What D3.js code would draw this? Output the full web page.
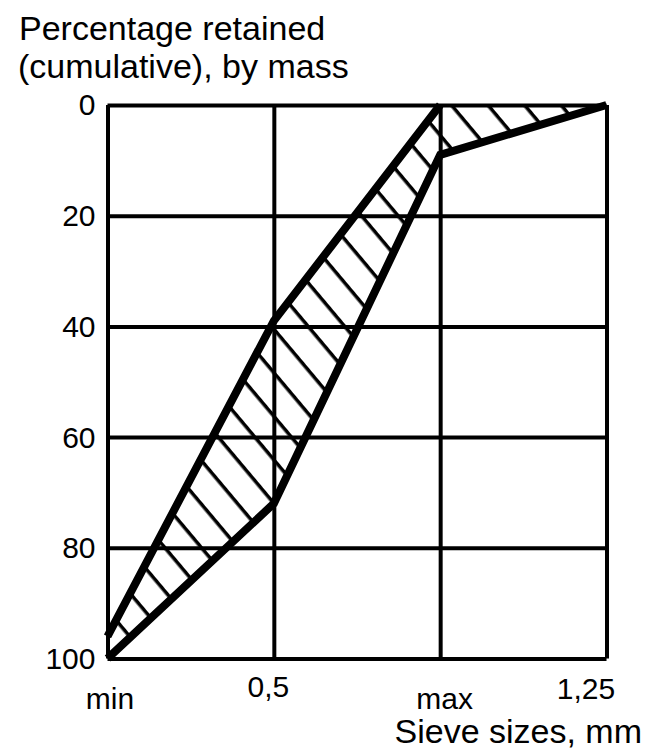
<!DOCTYPE html>
<html>
<head>
  <meta charset="utf-8">
  <title>Sieve grading envelope</title>
  <style>
    body { margin: 0; background: #fff; }
    svg { display: block; font-family: "Liberation Sans", Arial, sans-serif; }
    .grid line { stroke: #000; stroke-width: 4px; }
    .grid text { font-size: 30px; fill: #000; }
    .title { font-size: 34px; fill: #000; }
    .bound { fill: none; stroke: #000; stroke-width: 8px; stroke-linejoin: miter; }
  </style>
  <script src="https://d3js.org/d3.v7.min.js"></script>
</head>
<body>
  <svg id="chart" width="650" height="754"></svg>

  <script>
    // sieve positions along the x axis (equally spaced)
    const sieves = ['min', '0,5', 'max', '1,25'];
    // cumulative percentage retained, two limits of the grading envelope
    const lowerBound = [96, 39, 0, 0];
    const upperBound = [100, 72, 9, 0];
    const yTicks = [0, 20, 40, 60, 80, 100];

    const plotLeft = 107.5, plotRight = 606.5, plotTop = 105, plotBottom = 658.5;
    const svg = d3.select('#chart');

    const x = d3.scalePoint().domain(sieves).range([plotLeft, plotRight]);
    const y = d3.scaleLinear().domain([0, 100]).range([plotTop, plotBottom]);

    // hatch pattern, lines running down-right
    const defs = svg.append('defs');
    defs.append('pattern')
      .attr('id', 'hatch')
      .attr('patternUnits', 'userSpaceOnUse')
      .attr('width', 28).attr('height', 28)
      .attr('patternTransform', 'rotate(50)')
      .append('rect')
      .attr('x', 0).attr('y', 0)
      .attr('width', 28).attr('height', 3.5)
      .attr('fill', '#000');

    const lowerPts = sieves.map((s, i) => [x(s), y(lowerBound[i])]);
    const upperPts = sieves.map((s, i) => [x(s), y(upperBound[i])]);

    // shaded band between the two limits
    svg.append('path')
      .attr('d', 'M' + lowerPts.concat(upperPts.slice().reverse()).join('L') + 'Z')
      .attr('fill', 'url(#hatch)');

    // grid (frame + inner lines) from the axes
    const yAxis = svg.append('g')
      .attr('class', 'grid')
      .attr('transform', `translate(${plotLeft},0)`)
      .call(d3.axisLeft(y).tickValues(yTicks).tickSize(-(plotRight - plotLeft)).tickPadding(12));
    yAxis.select('.domain').remove();
    yAxis.selectAll('text').attr('dy', '0.33em');

    const xAxis = svg.append('g')
      .attr('class', 'grid')
      .attr('transform', `translate(0,${plotBottom})`)
      .call(d3.axisBottom(x).tickSize(-(plotBottom - plotTop)));
    xAxis.select('.domain').remove();
    const labelShift = { 'min': [2, 50], '0,5': [-6, 38], 'max': [4, 50], '1,25': [-21, 40] };
    xAxis.selectAll('text')
      .attr('dy', 0)
      .attr('y', d => labelShift[d][1])
      .attr('dx', d => labelShift[d][0]);

    // the two limit lines (lower one stops where it reaches 0 at the top edge)
    const line = d3.line();
    const lastLower = lowerBound.indexOf(0);
    svg.append('path').attr('class', 'bound')
      .attr('d', line(lowerPts.slice(0, lastLower + 1)));
    svg.append('path').attr('class', 'bound')
      .attr('d', line(upperPts));

    // axis titles
    svg.append('text').attr('class', 'title')
      .attr('x', 19).attr('y', 40).text('Percentage retained');
    svg.append('text').attr('class', 'title')
      .attr('x', 18).attr('y', 78).text('(cumulative), by mass');
    svg.append('text').attr('class', 'title')
      .attr('x', 642).attr('y', 743).attr('text-anchor', 'end')
      .text('Sieve sizes, mm');
  </script>
</body>
</html>
